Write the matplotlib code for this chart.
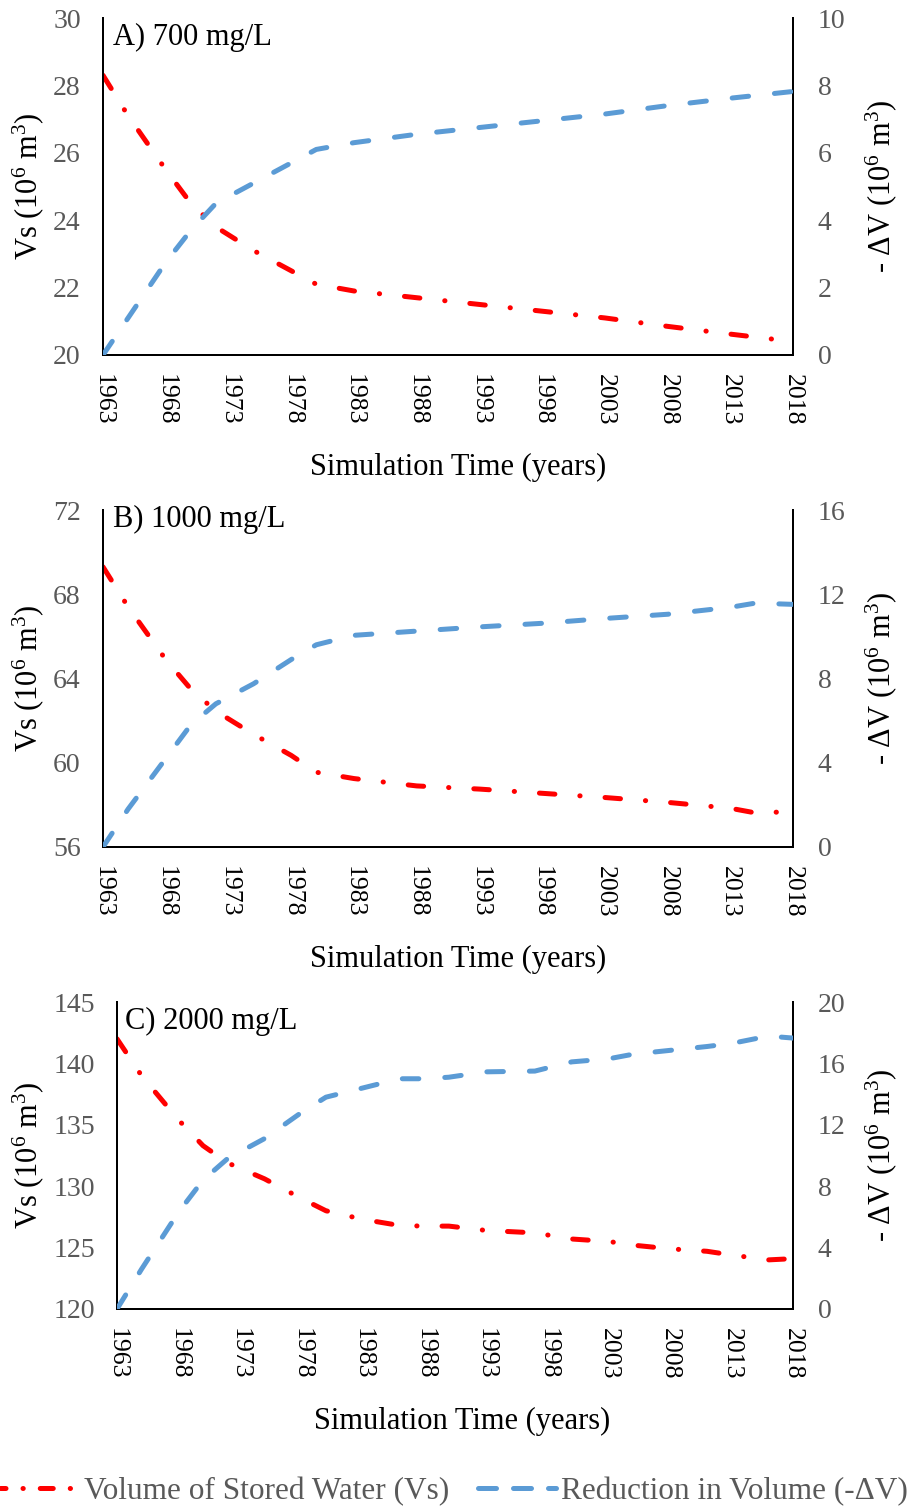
import matplotlib
matplotlib.use("Agg")
import matplotlib.pyplot as plt
from matplotlib.lines import Line2D

plt.rcParams["font.family"] = ["Liberation Serif", "DejaVu Serif"]
plt.rcParams["mathtext.fontset"] = "custom"
plt.rcParams["mathtext.rm"] = "Liberation Serif"
plt.rcParams["mathtext.it"] = "Liberation Serif:italic"

# ---- data -------------------------------------------------------------
years_a = [1963, 1965, 1968, 1970, 1972, 1975, 1978, 1980, 1983, 1988, 1993, 1998, 2003, 2008, 2013, 2018]
vs_a = [28.3, 27.1, 25.5, 24.5, 23.8, 23.1, 22.5, 22.1, 21.9, 21.7, 21.5, 21.3, 21.1, 20.85, 20.62, 20.4]
dv_a = [0.0, 1.1, 2.75, 3.7, 4.5, 5.1, 5.7, 6.1, 6.3, 6.55, 6.75, 6.95, 7.15, 7.4, 7.62, 7.82]

years_b = [1963, 1965, 1968, 1970, 1972, 1975, 1978, 1980, 1983, 1988, 1993, 1998, 2003, 2008, 2013, 2015, 2018]
vs_b = [69.3, 67.4, 64.9, 63.5, 62.45, 61.35, 60.35, 59.55, 59.25, 58.9, 58.75, 58.55, 58.35, 58.12, 57.84, 57.62, 57.68]
dv_b = [0.0, 1.8, 4.2, 5.8, 6.8, 7.75, 8.9, 9.6, 10.05, 10.25, 10.45, 10.62, 10.85, 11.05, 11.38, 11.58, 11.52]

years_c = [1963, 1965, 1968, 1970, 1972, 1975, 1978, 1980, 1983, 1986, 1988, 1990, 1993, 1997,
           2000, 2003, 2005, 2008, 2011, 2013, 2016, 2018]
vs_c = [142.0, 139.0, 135.4, 133.3, 131.9, 130.6, 129.0, 128.0, 127.3, 126.8, 126.75, 126.75, 126.4, 126.2,
        125.7, 125.5, 125.2, 124.9, 124.7, 124.4, 124.0, 124.1]
dv_c = [0.0, 2.6, 6.3, 8.4, 9.8, 11.1, 12.8, 13.8, 14.4, 15.0, 15.0, 15.1, 15.45, 15.5,
        16.1, 16.3, 16.6, 16.85, 17.1, 17.3, 17.78, 17.65]

x_ticks = list(range(1963, 2019, 5))
titles = ["A) 700 mg/L", "B) 1000 mg/L", "C) 2000 mg/L"]
left_ticks = [[20, 22, 24, 26, 28, 30], [56, 60, 64, 68, 72], [120, 125, 130, 135, 140, 145]]
right_ticks = [[0, 2, 4, 6, 8, 10], [0, 4, 8, 12, 16], [0, 4, 8, 12, 16, 20]]

# ---- style ------------------------------------------------------------
RED = "#FF0000"
BLUE = "#5B9BD5"
GREY = "#595959"
LW = 3.6
RED_DASH = (0, (3.1, 5.0, 0.05, 5.0))
BLUE_DASH = (0, (3.3, 5.2))
RED_DASH_LEG = (1.5, (2.6, 3.4, 0.05, 3.4))
BLUE_DASH_LEG = (0, (3.6, 3.4))
YTICK_FS = 20
XTICK_FS = 18.5
LABEL_FS = 22
TITLE_FS = 22
LEGEND_FS = 22.5

fig = plt.figure(figsize=(9.14, 15.07), dpi=100)

W, H = 914.0, 1507.0
boxes = [  # left, right, top, bottom in pixels
    (103, 793, 18, 355),
    (103, 793, 510, 847),
    (117, 793, 1002, 1309),
]
title_pos = [(0.0145, 0.941), (0.0145, 0.972), (0.012, 0.935)]
xlabel_pos = [(0.514, -0.29), (0.514, -0.29), (0.51, -0.32)]

datasets = [(years_a, vs_a, dv_a), (years_b, vs_b, dv_b), (years_c, vs_c, dv_c)]

for i, ((l, r, t, b), (yrs, vs, dv)) in enumerate(zip(boxes, datasets)):
    ax = fig.add_axes([l / W, 1 - b / H, (r - l) / W, (b - t) / H])
    ax2 = ax.twinx()

    ax.plot(yrs, vs, color=RED, lw=LW, linestyle=RED_DASH,
            dash_capstyle="round", solid_capstyle="round", zorder=3)
    ax2.plot(yrs, dv, color=BLUE, lw=LW, linestyle=BLUE_DASH,
             dash_capstyle="round", solid_capstyle="round", zorder=3)

    lt, rt = left_ticks[i], right_ticks[i]
    ax.set_xlim(1963, 2018)
    ax.set_ylim(lt[0], lt[-1])
    ax2.set_ylim(rt[0], rt[-1])
    ax.set_yticks(lt)
    ax2.set_yticks(rt)
    ax.set_xticks(x_ticks)
    ax.set_xticklabels([str(y) for y in x_ticks], rotation=-90, va="top", ha="center")

    for a in (ax, ax2):
        a.spines["top"].set_visible(False)
        for s in ("left", "right", "bottom"):
            a.spines[s].set_color("black")
            a.spines[s].set_linewidth(1.4)
        a.tick_params(length=0)
        a.tick_params(axis="y", labelsize=YTICK_FS, labelcolor=GREY)
        a.patch.set_visible(False)
    ax.tick_params(axis="x", labelsize=XTICK_FS, labelcolor="black", pad=14)
    ax.tick_params(axis="y", pad=16)
    ax2.tick_params(axis="y", pad=18)

    ax.set_ylabel("Vs (10$^{6}$ m$^{3}$)", fontsize=LABEL_FS, color="black")
    ax2.set_ylabel("- \u0394V (10$^{6}$ m$^{3}$)", fontsize=LABEL_FS, color="black",
                   rotation=90)
    ax.set_xlabel("Simulation Time (years)", fontsize=LABEL_FS, color="black")

    axw = (r - l)
    ax.yaxis.set_label_coords((46 - l) / axw, 0.5)
    ax2.yaxis.set_label_coords((863 - l) / axw, 0.5)
    ax.xaxis.set_label_coords(*xlabel_pos[i])

    ax.text(title_pos[i][0], title_pos[i][1], titles[i], transform=ax.transAxes,
            fontsize=TITLE_FS, color="black", ha="left", va="center")

handles = [
    Line2D([], [], color=RED, lw=LW, linestyle=RED_DASH_LEG, dash_capstyle="round"),
    Line2D([], [], color=BLUE, lw=LW, linestyle=BLUE_DASH_LEG, dash_capstyle="round"),
]
leg = fig.legend(handles, ["Volume of Stored Water (Vs)", "Reduction in Volume (-\u0394V)"],
                 loc="center", bbox_to_anchor=(0.497, 0.0105), ncol=2, frameon=False,
                 fontsize=LEGEND_FS, handlelength=2.5, handletextpad=0.18, columnspacing=0.9,
                 borderpad=0.0, borderaxespad=0.0)
for txt in leg.get_texts():
    txt.set_color(GREY)

fig.savefig("out.png", dpi=100)
